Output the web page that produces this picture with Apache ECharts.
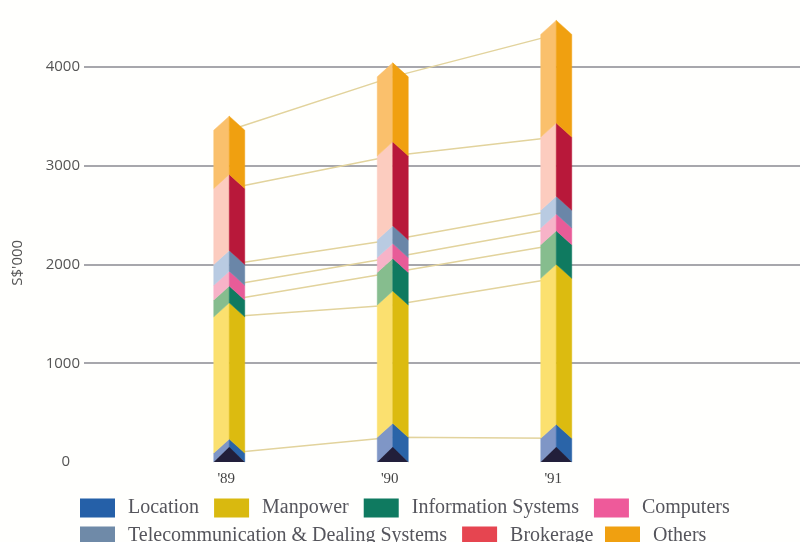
<!DOCTYPE html>
<html>
<head>
<meta charset="utf-8">
<style>html,body{margin:0;padding:0;background:#fff}#chart{width:800px;height:542px}</style>
<script src="https://cdn.jsdelivr.net/npm/echarts@6/dist/echarts.min.js"></script>
</head>
<body>
<div id="chart"></div>
<script>
// Annual expenditure by category, S$'000
const years = ["'89", "'90", "'91"];
const location_ = [90, 250, 240];
const manpower = [1380, 1340, 1620];
const infoSystems = [170, 330, 340];
const computers = [150, 150, 170];
const telecom = [210, 180, 180];
const brokerage = [770, 850, 740];
const others = [590, 800, 1040];

// Stack order runs bottom to top; each entry has a light face, dark face and key colour
const stack = [
  { name: 'Location', values: location_, light: '#7f96c6', dark: '#2a64a8', key: '#2560a8' },
  { name: 'Manpower', values: manpower, light: '#fbe06f', dark: '#dcbb10', key: '#d9b90f' },
  { name: 'Information Systems', values: infoSystems, light: '#86bd8e', dark: '#0f7a60', key: '#0f7a60' },
  { name: 'Computers', values: computers, light: '#f7b3c8', dark: '#e85c98', key: '#ee5a9a' },
  { name: 'Telecommunication & Dealing Systems', values: telecom, light: '#b9cbe2', dark: '#6a86a8', key: '#6f8aa8' },
  { name: 'Brokerage', values: brokerage, light: '#fcccbf', dark: '#b8183a', key: '#e64550' },
  { name: 'Others', values: others, light: '#fac06c', dark: '#f0a010', key: '#f0a010' }
];

const HALF_WIDTH = 15.5;
const CHEVRON = 14;

// Running totals per category, one array per stack level
const totals = [];
stack.forEach((s, i) => {
  totals.push(s.values.map((v, k) => v + (i ? totals[i - 1][k] : 0)));
});

function prismItem(s, isBase) {
  return function (params, api) {
    const idx = api.value(0);
    const [cx, yBottom] = api.coord([idx, api.value(1)]);
    const yTop = api.coord([idx, api.value(2)])[1];
    const l = cx - HALF_WIDTH, r = cx + HALF_WIDTH;
    const children = [
      { type: 'polygon', shape: { points: [[l, yTop], [cx, yTop - CHEVRON], [cx, yBottom - CHEVRON], [l, yBottom]] },
        style: { fill: s.light, stroke: s.light, lineWidth: 0.5 } },
      { type: 'polygon', shape: { points: [[r, yTop], [cx, yTop - CHEVRON], [cx, yBottom - CHEVRON], [r, yBottom]] },
        style: { fill: s.dark, stroke: s.dark, lineWidth: 0.5 } }
    ];
    if (isBase) {
      children.push({ type: 'polygon', shape: { points: [[l, yBottom], [cx, yBottom - CHEVRON - 1], [r, yBottom]] },
        style: { fill: '#221f3a' } });
    }
    return { type: 'group', children };
  };
}

const connectors = stack.map((s, i) => ({
  type: 'line',
  name: s.name + ' link',
  xAxisIndex: 1,
  yAxisIndex: 1,
  data: totals[i],
  symbol: 'none',
  silent: true,
  z: 2,
  lineStyle: { color: '#e2d39c', width: 1.5 }
}));

const prisms = stack.map((s, i) => ({
  type: 'custom',
  name: s.name,
  xAxisIndex: 1,
  yAxisIndex: 1,
  clip: false,
  z: 3,
  itemStyle: { color: s.key },
  encode: { x: 0, y: [1, 2] },
  data: s.values.map((v, k) => [k, i ? totals[i - 1][k] : 0, totals[i][k]]),
  renderItem: prismItem(s, i === 0)
}));

const legendText = { fontFamily: 'Liberation Serif', fontSize: 20, color: '#55555c', padding: [0, 0, 0, 8] };
const legendBase = { orient: 'horizontal', icon: 'rect', itemWidth: 35, itemHeight: 19, itemGap: 15,
  selectedMode: false, padding: 0, textStyle: legendText };

const chart = echarts.init(document.getElementById('chart'), null, { renderer: 'canvas' });
chart.setOption({
  animation: false,
  backgroundColor: '#fffffd',
  grid: [
    { left: 84, right: 0, top: 17.6, bottom: 80 },
    { left: 147.5, width: 490.5, top: 17.6, bottom: 80 }
  ],
  xAxis: [
    { type: 'value', gridIndex: 0, show: false, min: 0, max: 1 },
    { type: 'category', gridIndex: 1, data: years,
      axisLine: { show: false }, axisTick: { show: false },
      axisLabel: { fontFamily: 'Liberation Serif', fontSize: 15, color: '#444', margin: 10, padding: [0, 6, 0, 0] } }
  ],
  yAxis: [
    { type: 'value', gridIndex: 0, min: 0, max: 4500, interval: 1000,
      name: "S$'000", nameLocation: 'middle', nameGap: 59, nameRotate: 90,
      nameTextStyle: { fontFamily: 'Open Sans', fontSize: 15, color: '#555', padding: [0, 46, 0, 0] },
      axisLine: { show: false }, axisTick: { show: false },
      axisLabel: { showMaxLabel: false, margin: 4, fontFamily: 'Open Sans', fontSize: 15, color: '#555',
        formatter: v => (v === 0 ? '{zero|0}' : String(v)),
        rich: { zero: { fontFamily: 'Open Sans', fontSize: 15, color: '#555', padding: [0, 10, 0, 0] } } },
      splitLine: { show: true, showMinLine: false, showMaxLine: false, lineStyle: { color: '#8a8a90', width: 1.5 } } },
    { type: 'value', gridIndex: 1, show: false, min: 0, max: 4500, interval: 1000, splitLine: { show: false } }
  ],
  legend: [
    Object.assign({}, legendBase, { left: 80, top: 498, data: ['Location', 'Manpower', 'Information Systems', 'Computers'] }),
    Object.assign({}, legendBase, { left: 80, top: 526, data: ['Telecommunication & Dealing Systems', 'Brokerage'] }),
    Object.assign({}, legendBase, { left: 605, top: 526, data: ['Others'] })
  ],
  series: connectors.concat(prisms)
});
</script>
</body>
</html>
